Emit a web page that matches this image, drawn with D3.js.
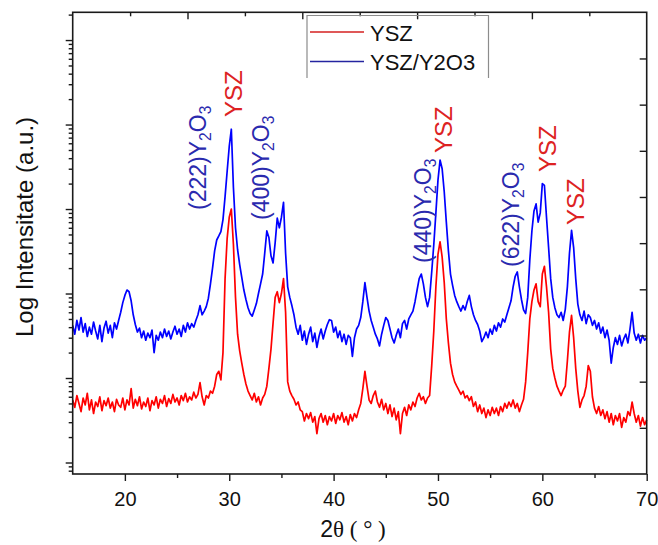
<!DOCTYPE html>
<html>
<head>
<meta charset="utf-8">
<script src="https://cdn.jsdelivr.net/npm/d3@7"></script>
<style>
    body { margin: 0; background: #fff; }
    text { font-family: "Liberation Sans", Arial, sans-serif; }
</style>
</head>
<body>
<svg id="chart" width="658" height="545"></svg>
<script>
// 2theta sampling of both scans (degrees)
const thetaStart = 15;
const thetaStep = 0.2;

// intensities, one row per degree (x.0, x.2, x.4, x.6, x.8)
const ysz = [
    55, 45, 62, 50, 40,      // 15
    58, 48, 66, 42, 55,
    38, 52, 46, 60, 41,
    54, 47, 58, 44, 52,
    40, 56, 48, 45, 58,
    42, 55, 48, 75, 44,      // 20
    56, 47, 60, 43, 52,
    46, 58, 41, 54, 48,
    60, 44, 56, 50, 62,
    46, 57, 50, 64, 52,
    58, 48, 62, 54, 66,      // 25
    52, 60, 55, 68, 58,
    64, 88, 60, 48, 62,
    58, 70, 66, 80, 110,
    120, 95, 200, 1500, 4500,
    8000, 10000, 3800, 900, 330,   // 30
    210, 150, 110, 85, 70,
    62, 55, 66, 52, 60,
    48, 58, 64, 80, 130,
    220, 450, 900, 1050, 780,
    1000, 1500, 600, 90, 70, // 35
    62, 56, 48, 52, 42,
    40, 31, 38, 33, 39,
    30, 35, 22, 33, 38,
    30, 36, 28, 35, 31,
    38, 29, 36, 32, 39,      // 40
    30, 35, 28, 37, 31,
    38, 34, 42, 50, 75,
    120, 80, 55, 50, 62,
    70, 52, 45, 56, 42,
    50, 38, 48, 35, 44,      // 45
    32, 40, 22, 38, 45,
    36, 48, 42, 52, 46,
    58, 66, 55, 60, 50,
    58, 62, 140, 360, 1200,
    2900, 4100, 2700, 1350, 500,   // 50
    260, 150, 110, 90, 80,
    72, 64, 70, 58, 62,
    54, 60, 46, 52, 40,
    48, 38, 44, 34, 42,
    36, 45, 38, 44, 36,      // 55
    46, 40, 50, 44, 52,
    46, 55, 44, 50, 40,
    48, 56, 90, 200, 500,
    800, 1100, 1300, 800, 700,
    1700, 2100, 1200, 600, 220,    // 60
    130, 100, 80, 70, 62,
    72, 80, 160, 350, 550,
    300, 130, 70, 45, 55,
    62, 80, 140, 120, 60,
    44, 38, 46, 36, 42,      // 65
    33, 40, 30, 38, 28,
    36, 31, 38, 26, 34,
    30, 40, 36, 52, 38,
    30, 36, 27, 34, 28,
    32                       // 70
];

const yszY2O3 = [
    420, 330, 480, 370, 520,     // 15
    350, 440, 310, 400, 330,
    460, 360, 290, 420, 270,
    390, 470, 340, 420, 300,
    450, 380, 480, 600, 780,
    950, 1100, 1050, 820, 560,   // 20
    430, 350, 390, 300, 360,
    280, 340, 300, 370, 200,
    320, 280, 350, 300, 380,
    310, 360, 290, 350, 410,
    330, 380, 310, 420, 350,     // 25
    450, 380, 440, 400, 480,
    560, 720, 560, 620, 700,
    880, 1300, 2000, 3200, 4300,
    4800, 5400, 7500, 14000, 28000,
    55000, 88000, 18000, 6000, 3300,   // 30
    2200, 1550, 1100, 850, 680,
    580, 540, 640, 760, 1000,
    1300, 1700, 3000, 5500, 4600,
    2800, 2300, 4000, 7800, 6000,
    8000, 12000, 3000, 1200, 900,      // 35
    720, 560, 400, 330, 420,
    280, 360, 250, 330, 400,
    270, 340, 230, 310, 380,
    290, 360, 430, 490, 480,
    350, 400, 300, 360, 270,     // 40
    330, 250, 320, 300, 180,
    300, 380, 420, 520, 800,
    1350, 900, 620, 480, 400,
    330, 290, 240, 330, 420,
    520, 480, 380, 300, 260,     // 45
    320, 380, 300, 440, 480,
    380, 500, 560, 620, 800,
    1100, 1500, 1700, 1300, 900,
    700, 900, 1800, 3800, 9000,
    22000, 38000, 30000, 16000, 7000,  // 50
    3200, 1700, 1250, 950, 800,
    700, 620, 720, 640, 800,
    950, 700, 560, 480, 430,
    360, 270, 300, 350, 300,
    380, 330, 420, 360, 450,     // 55
    400, 500, 460, 560, 680,
    820, 1200, 1600, 1800, 1200,
    850, 640, 580, 900, 2500,
    5500, 9500, 11500, 7000, 9000,
    20000, 19000, 8000, 3500, 1500,    // 60
    900, 680, 560, 520, 600,
    480, 650, 1200, 3000, 5600,
    3500, 1500, 750, 560, 480,
    620, 440, 560, 520, 420,
    480, 380, 450, 340, 400,     // 65
    300, 370, 280, 150, 230,
    300, 250, 320, 240, 290,
    330, 260, 380, 600, 340,
    280, 330, 260, 320, 280,
    300                          // 70
];

const seriesNames = ["YSZ", "YSZ/Y2O3"];
const xTicks = [20, 30, 40, 50, 60, 70];
const xMinorTicks = [25, 35, 45, 55, 65];

// peak labels and the 2theta where each one sits
const peakLabels = ["(222)Y2O3", "YSZ", "(400)Y2O3", "(440)Y2O3", "YSZ", "(622)Y2O3", "YSZ", "YSZ"];
const peakLabelTheta = [27.75, 31.2, 33.8, 49.3, 51.3, 57.75, 61.3, 63.95];

const svg = d3.select('#chart');
const plotLeft = 72.7, plotTop = 12.3, plotRight = 646.7, plotBottom = 474;

const x = d3.scaleLinear().domain([15, 70]).range([plotLeft, plotRight]);
const y = d3.scaleLog().domain([7.31, 2.13e6]).range([plotBottom, plotTop]);

const redLine = '#ff0000';
const blueLine = '#0000ff';
const redText = '#dd2222';
const blueText = '#2a2aae';

function toPoints(values) {
    return values.map(function (v, i) {
        return {t: thetaStart + i * thetaStep, v: v};
    });
}

const lineGen = d3.line()
    .x(function (d) { return x(d.t); })
    .y(function (d) { return y(d.v); });

svg.append('path')
    .attr('d', lineGen(toPoints(yszY2O3)))
    .attr('fill', 'none')
    .attr('stroke', blueLine)
    .attr('stroke-width', 1.7)
    .attr('stroke-linejoin', 'round');

svg.append('path')
    .attr('d', lineGen(toPoints(ysz)))
    .attr('fill', 'none')
    .attr('stroke', redLine)
    .attr('stroke-width', 1.7)
    .attr('stroke-linejoin', 'round');

// frame
svg.append('rect')
    .attr('x', plotLeft).attr('y', plotTop)
    .attr('width', plotRight - plotLeft).attr('height', plotBottom - plotTop)
    .attr('fill', 'none')
    .attr('stroke', '#1a1a1a')
    .attr('stroke-width', 1.6);

function cleanAxis(g) {
    g.select('.domain').remove();
    g.selectAll('.tick line').attr('stroke', '#1a1a1a').attr('stroke-width', 1.4);
}

// bottom axis
svg.append('g')
    .attr('transform', 'translate(0,' + plotBottom + ')')
    .call(d3.axisBottom(x).tickValues(xTicks).tickSize(7).tickPadding(11).tickFormat(d3.format('d')))
    .call(cleanAxis)
    .selectAll('text')
    .attr('font-size', 20)
    .attr('font-family', '"Liberation Sans", Arial, sans-serif')
    .attr('fill', '#111');

svg.append('g')
    .attr('transform', 'translate(0,' + plotBottom + ')')
    .call(d3.axisBottom(x).tickValues(xMinorTicks).tickSize(4).tickFormat(''))
    .call(cleanAxis);

// left log axis, no labels
const majorY = [], minorY = [];
for (let e = 0; e <= 7; e++) {
    for (let k = 1; k <= 9; k++) {
        const v = k * Math.pow(10, e);
        if (v < y.domain()[0] || v > y.domain()[1]) continue;
        if (k === 1) majorY.push(v); else minorY.push(v);
    }
}
svg.append('g')
    .attr('transform', 'translate(' + plotLeft + ',0)')
    .call(d3.axisLeft(y).tickValues(majorY).tickSize(7).tickFormat(''))
    .call(cleanAxis);
svg.append('g')
    .attr('transform', 'translate(' + plotLeft + ',0)')
    .call(d3.axisLeft(y).tickValues(minorY).tickSize(4).tickFormat(''))
    .call(cleanAxis);

// top and right mirror axes (ten even divisions, ticks inward)
const topScale = d3.scaleLinear().domain([0, 10]).range([plotLeft, plotRight]);
const rightScale = d3.scaleLinear().domain([0, 10]).range([plotBottom, plotTop]);
svg.append('g')
    .attr('transform', 'translate(0,' + plotTop + ')')
    .call(d3.axisTop(topScale).tickValues([2, 4, 6, 8]).tickSize(-7).tickFormat(''))
    .call(cleanAxis);
svg.append('g')
    .attr('transform', 'translate(0,' + plotTop + ')')
    .call(d3.axisTop(topScale).tickValues([1, 3, 5, 7, 9]).tickSize(-4).tickFormat(''))
    .call(cleanAxis);
svg.append('g')
    .attr('transform', 'translate(' + plotRight + ',0)')
    .call(d3.axisRight(rightScale).tickValues([1, 2, 3, 4, 5, 6, 7, 8, 9]).tickSize(-7).tickFormat(''))
    .call(cleanAxis);

// axis titles
svg.append('text')
    .attr('transform', 'rotate(-90)')
    .attr('x', -227)
    .attr('y', 33)
    .attr('text-anchor', 'middle')
    .attr('font-size', 24)
    .attr('fill', '#111')
    .text('Log Intensitate (a.u.)');

const xTitle = svg.append('text')
    .attr('x', 353)
    .attr('y', 537)
    .attr('text-anchor', 'middle')
    .attr('font-size', 23)
    .attr('fill', '#111');
xTitle.append('tspan').text('2');
xTitle.append('tspan').attr('font-family', '"Liberation Serif", "Times New Roman", serif').text('\u03b8 ( \u00b0 )');

// peak labels, rotated, subscripts on the formula digits
const labelBottoms = [210, 117, 220, 263, 153, 267, 172, 225];
peakLabels.forEach(function (label, i) {
    const lx = x(peakLabelTheta[i]);
    const ly = labelBottoms[i];
    const isYsz = label === 'YSZ';
    const t = svg.append('text')
        .attr('transform', 'translate(' + lx + ',' + ly + ') rotate(-90)')
        .attr('font-size', isYsz ? 24 : 23)
        .attr('fill', isYsz ? redText : blueText);
    const parts = label.match(/\([^)]*\)|[A-Za-z]+|\d/g);
    let sub = false;
    parts.forEach(function (p) {
        const isSub = /^\d$/.test(p);
        const ts = t.append('tspan').text(p);
        if (isSub && !sub) { ts.attr('dy', '0.32em').attr('font-size', '0.68em'); sub = true; }
        else if (isSub) { ts.attr('font-size', '0.68em'); }
        else if (sub) { ts.attr('dy', '-0.22em'); sub = false; }
    });
});

// legend
const legend = svg.append('g');
legend.append('path')
    .attr('d', 'M307,78 V15.5 H488.5 V78')
    .attr('fill', 'none')
    .attr('stroke', '#8c8c8c')
    .attr('stroke-width', 1.2);
const legendColors = ['#d42020', '#2424a0'];
seriesNames.forEach(function (name, i) {
    const ly = 32 + i * 29.5;
    legend.append('line')
        .attr('x1', 310).attr('x2', 364)
        .attr('y1', ly).attr('y2', ly)
        .attr('stroke', legendColors[i])
        .attr('stroke-width', 1.6);
    legend.append('text')
        .attr('x', 370)
        .attr('y', ly + 8.5)
        .attr('font-size', 22)
        .attr('fill', '#111')
        .text(name);
});
</script>
</body>
</html>
